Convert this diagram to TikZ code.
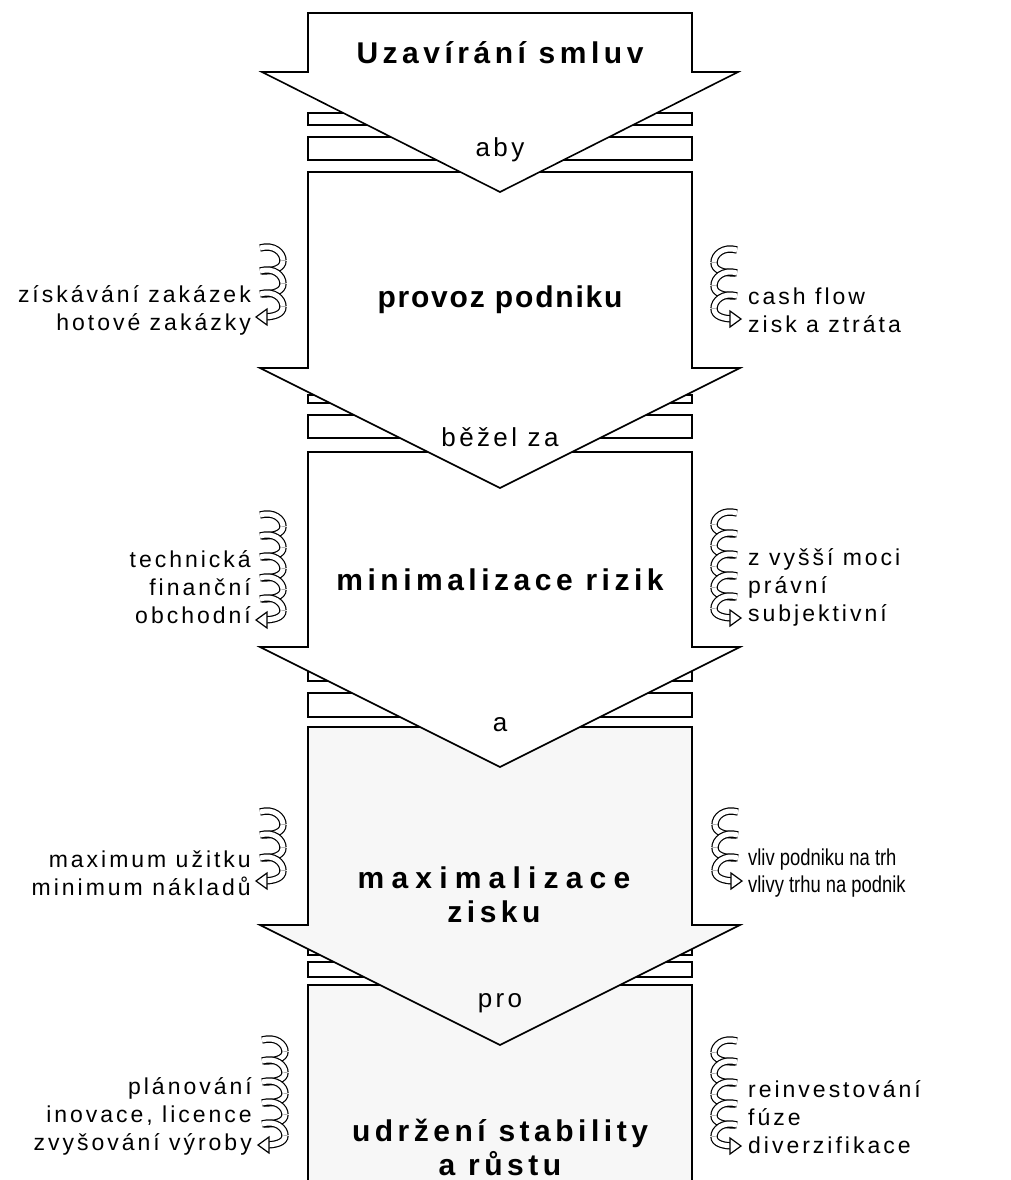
\documentclass[tikz,border=0pt]{standalone}
\usepackage{fontspec}
\setmainfont{Liberation Sans}
\newfontfamily\headfont{Liberation Sans}[LetterSpace=15]
\newfontfamily\notefont{Liberation Sans}[LetterSpace=13]
\newfontfamily\narrowfont{Liberation Sans}[FakeStretch=0.8]

\tikzset{
  arrowbox/.style={draw, line width=1.6pt, fill=white, line join=miter},
  barbox/.style={draw, line width=1.4pt, fill=white},
  headtext/.style={font=\headfont\bfseries\fontsize{30}{34}\selectfont, align=center, inner sep=0pt},
  joinword/.style={font=\notefont\fontsize{26}{30}\selectfont, inner sep=0pt},
  sidenote/.style={font=\notefont\fontsize{23}{28}\selectfont, inner sep=0pt},
  ribbon/.style={draw=black, line width=1.2pt, double=white, double distance=5pt},
  ribbonhead/.style={draw=black, line width=1.2pt, fill=white, line join=miter}
}

% twisted arrow beside a box: x of the pointed side, top y, turns, pitch, side (1 left, -1 right)
\newcommand{\spiral}[5]{%
  \begin{scope}[shift={(#1,0)}, xscale=#5]
    \foreach \k in {1,...,#3} {
      \pgfmathsetmacro{\ya}{#2+(\k-1)*#4}
      \draw[ribbon] (2,\ya) .. controls (16,\ya-4) and (25,\ya+0.2*#4) .. (25,\ya+0.55*#4);
      \draw[ribbon] (25,\ya+0.55*#4) .. controls (25,\ya+0.9*#4) and (15,\ya+#4) .. (4,\ya+#4);
    }
    \pgfmathsetmacro{\yb}{#2+#3*#4}
    \draw[ribbonhead] (-2,\yb) -- (9,\yb-8) -- (9,\yb+8) -- cycle;
  \end{scope}}

\begin{document}
\begin{tikzpicture}[x=1pt, y=-1pt]
  \useasboundingbox (0,0) rectangle (1010,1180);

  % last box, open at the bottom
  \fill[gray!6] (308,985) rectangle (692,1190);
  \draw[line width=1.6pt] (308,1190) |- (692,985) -- (692,1190);

  % gap 4
  \draw[barbox] (308,947) rectangle (692,955);
  \draw[barbox] (308,962) rectangle (692,977);
  % arrow 4
  \draw[arrowbox, fill=gray!6] (308,727) -- (692,727) -- (692,925) -- (740,925) -- (500,1045)
      -- (260,925) -- (308,925) -- cycle;

  % gap 3
  \draw[barbox] (308,670) rectangle (692,681);
  \draw[barbox] (308,693) rectangle (692,717);
  % arrow 3
  \draw[arrowbox] (308,452) -- (692,452) -- (692,647) -- (740,647) -- (500,767)
      -- (260,647) -- (308,647) -- cycle;

  % gap 2
  \draw[barbox] (308,395) rectangle (692,403);
  \draw[barbox] (308,415) rectangle (692,438);
  % arrow 2
  \draw[arrowbox] (308,172) -- (692,172) -- (692,368) -- (740,368) -- (500,488)
      -- (260,368) -- (308,368) -- cycle;

  % gap 1
  \draw[barbox] (308,113) rectangle (692,125);
  \draw[barbox] (308,137) rectangle (692,160);
  % arrow 1
  \draw[arrowbox] (308,13) -- (692,13) -- (692,72) -- (738,72) -- (500,192)
      -- (262,72) -- (308,72) -- cycle;

  % titles
  \node[headtext] (smlouvy) at (500,53) {Uzavírání smluv};
  \node[headtext] (provoz) at (500,300) {\addfontfeature{LetterSpace=6}provoz podniku};
  \node[headtext] (rizika) at (500,580) {minimalizace rizik};
  \node[headtext] (zisk) at (494,895) {\addfontfeature{LetterSpace=24}maximalizace\\zisku};
  \node[headtext, anchor=south] (stabilita) at (500,1176) {udržení stability\\a růstu};

  % words between the arrows
  \node[joinword] (aby) at (500,150) {aby};
  \node[joinword] (bezel) at (500,437) {běžel za};
  \node[joinword] (a) at (500,725) {a};
  \node[joinword] (pro) at (500,1003) {pro};

  % side notes
  \spiral{258}{248}{3}{23}{1}
  \spiral{739}{250}{3}{23}{-1}
  \node[sidenote, anchor=east, align=right] (provozL) at (251,310) {získávání zakázek\\hotové zakázky};
  \node[sidenote, anchor=west, align=left] (provozR) at (748,310) {cash flow\\zisk a ztráta};

  \spiral{258}{515}{5}{21}{1}
  \spiral{739}{513}{5}{21}{-1}
  \node[sidenote, anchor=east, align=right] (rizikaL) at (251,587) {technická\\finanční\\obchodní};
  \node[sidenote, anchor=west, align=left] (rizikaR) at (748,587) {z vyšší moci\\právní\\subjektivní};

  \spiral{258}{812}{3}{23}{1}
  \spiral{740}{812}{3}{23}{-1}
  \node[sidenote, anchor=east, align=right] (ziskL) at (251,873) {maximum užitku\\minimum nákladů};
  \node[sidenote, anchor=west, align=left, font=\narrowfont\fontsize{23}{27}\selectfont] (ziskR) at (748,873) {vliv podniku na trh\\vlivy trhu na podnik};

  \spiral{260}{1040}{5}{21}{1}
  \spiral{739}{1041}{5}{21}{-1}
  \node[sidenote, anchor=east, align=right] (stabilitaL) at (252,1116) {plánování\\inovace, licence\\zvyšování výroby};
  \node[sidenote, anchor=west, align=left] (stabilitaR) at (748,1117) {reinvestování\\fúze\\diverzifikace};
\end{tikzpicture}
\end{document}
